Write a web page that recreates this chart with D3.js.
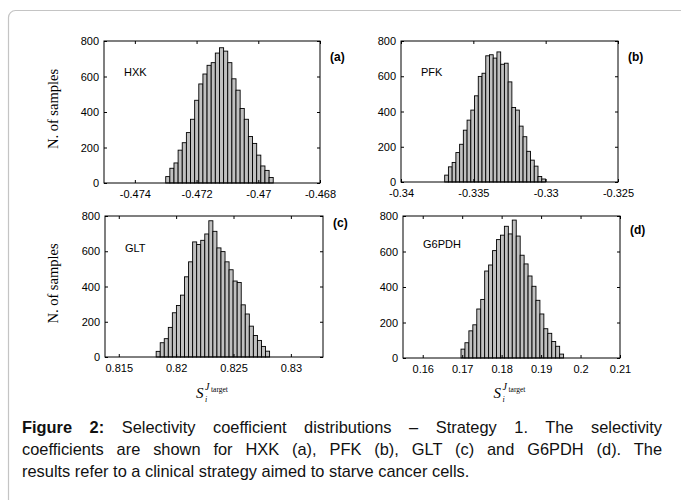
<!DOCTYPE html>
<html>
<head>
<meta charset="utf-8">
<script src="https://cdn.jsdelivr.net/npm/d3@7"></script>
<style>
  body { margin: 0; background: #fff; }
  #wrap { position: relative; width: 681px; height: 500px; overflow: hidden; }
  .cap { position: absolute; left: 22px; width: 640px; font: 16.4px "Liberation Sans", Arial, sans-serif; color: #111; white-space: nowrap; }
  .just { text-align: justify; text-align-last: justify; white-space: normal; }
</style>
</head>
<body>
<div id="wrap"></div>
<script>

// ---- data ----
var yTicks = [0, 200, 400, 600, 800];

var hxkCounts = [36, 83, 113, 185, 227, 284, 359, 466, 558, 614, 663, 678, 732, 762, 743, 678, 587, 523, 420, 359, 262, 223, 157, 96, 71, 31];
var hxkBin = { start: -0.4730, width: 0.000134 };
var hxkDomain = [-0.475, -0.468];
var hxkTicks = [-0.474, -0.472, -0.47, -0.468];

var pfkCounts = [39, 86, 111, 167, 214, 294, 351, 408, 489, 599, 617, 716, 722, 703, 738, 668, 674, 568, 423, 408, 317, 257, 174, 124, 90, 31, 17];
var pfkBin = { start: -0.33698, width: 0.000258 };
var pfkDomain = [-0.34, -0.325];
var pfkTicks = [-0.34, -0.335, -0.33, -0.325];

var gltCounts = [32, 81, 104, 168, 251, 292, 351, 455, 540, 653, 638, 662, 698, 773, 713, 619, 598, 540, 495, 431, 423, 296, 244, 175, 122, 94, 60, 33];
var gltBin = { start: 0.81826, width: 0.000353 };
var gltDomain = [0.8138, 0.8328];
var gltTicks = [0.815, 0.82, 0.825, 0.83];

var g6pdhCounts = [50, 86, 153, 187, 276, 330, 490, 524, 605, 667, 692, 742, 699, 777, 687, 579, 530, 462, 404, 325, 248, 165, 139, 93, 66, 22];
var g6pdhBin = { start: 0.1697, width: 0.001 };
var g6pdhDomain = [0.155, 0.21];
var g6pdhTicks = [0.16, 0.17, 0.18, 0.19, 0.2, 0.21];

var panels = [
    { name: "HXK", tag: "(a)", counts: hxkCounts, bin: hxkBin, domain: hxkDomain, ticks: hxkTicks,
      box: { x: 104, y: 41, w: 216, h: 142 }, tagY: 61, nameY: 76, ylab: true, xlab: false },
    { name: "PFK", tag: "(b)", counts: pfkCounts, bin: pfkBin, domain: pfkDomain, ticks: pfkTicks,
      box: { x: 401, y: 41, w: 217, h: 141 }, tagY: 61, nameY: 76, ylab: false, xlab: false },
    { name: "GLT", tag: "(c)", counts: gltCounts, bin: gltBin, domain: gltDomain, ticks: gltTicks,
      box: { x: 105, y: 216, w: 218, h: 141 }, tagY: 227, nameY: 252, ylab: true, xlab: true },
    { name: "G6PDH", tag: "(d)", counts: g6pdhCounts, bin: g6pdhBin, domain: g6pdhDomain, ticks: g6pdhTicks,
      box: { x: 403, y: 216, w: 217, h: 142 }, tagY: 234, nameY: 248, ylab: false, xlab: true }
];

var sansFont = '"Liberation Sans", Arial, sans-serif';
var serifFont = '"Liberation Serif", "Times New Roman", serif';

var svg = d3.select("#wrap")
    .append("svg")
    .attr("width", 681)
    .attr("height", 500)
    .style("position", "absolute")
    .style("left", 0)
    .style("top", 0);

// outer frame of the figure box
svg.append("rect")
    .attr("x", 8.5)
    .attr("y", 10.5)
    .attr("width", 720)
    .attr("height", 540)
    .attr("rx", 7)
    .attr("fill", "none")
    .attr("stroke", "#c4c4c4")
    .attr("stroke-width", 1.2);

function fmt(d) { return String(d); }

function styleAxis(g) {
    g.selectAll("line").attr("stroke", "#000");
    g.selectAll("path").remove();
    g.selectAll("text")
        .style("font-family", sansFont)
        .style("font-size", "11px")
        .attr("fill", "#000");
}

panels.forEach(function (p) {
    var b = p.box;
    var g = svg.append("g").attr("transform", "translate(" + b.x + "," + b.y + ")");

    var x = d3.scaleLinear().domain(p.domain).range([0, b.w]);
    var y = d3.scaleLinear().domain([0, 800]).range([b.h, 0]);

    // bars
    g.selectAll("rect.bar")
        .data(p.counts)
        .enter()
        .append("rect")
        .attr("class", "bar")
        .attr("x", function (d, i) { return x(p.bin.start + i * p.bin.width); })
        .attr("width", function (d, i) { return x(p.bin.start + (i + 1) * p.bin.width) - x(p.bin.start + i * p.bin.width); })
        .attr("y", function (d) { return y(d); })
        .attr("height", function (d) { return y(0) - y(d); })
        .attr("fill", "#c0c0c0")
        .attr("stroke", "#000")
        .attr("stroke-width", 0.9);

    // axes, ticks pointing inward as in matlab
    var xb = g.append("g").attr("transform", "translate(0," + b.h + ")")
        .call(d3.axisBottom(x).tickValues(p.ticks).tickSize(-3).tickSizeOuter(0).tickPadding(7).tickFormat(fmt));
    styleAxis(xb);
    var xt = g.append("g")
        .call(d3.axisTop(x).tickValues(p.ticks).tickSize(-3).tickSizeOuter(0).tickFormat(""));
    styleAxis(xt);
    var yl = g.append("g")
        .call(d3.axisLeft(y).tickValues(yTicks).tickSize(-3).tickSizeOuter(0).tickPadding(5).tickFormat(fmt));
    styleAxis(yl);
    var yr = g.append("g").attr("transform", "translate(" + b.w + ",0)")
        .call(d3.axisRight(y).tickValues(yTicks).tickSize(-3).tickSizeOuter(0).tickFormat(""));
    styleAxis(yr);

    g.append("rect")
        .attr("x", 0).attr("y", 0)
        .attr("width", b.w).attr("height", b.h)
        .attr("fill", "none")
        .attr("stroke", "#000")
        .attr("stroke-width", 1);

    // enzyme name
    g.append("text")
        .attr("x", 20)
        .attr("y", p.nameY - b.y)
        .style("font-family", sansFont)
        .style("font-size", "11px")
        .text(p.name);

    // panel tag
    g.append("text")
        .attr("x", b.w + 10)
        .attr("y", p.tagY - b.y)
        .style("font-family", sansFont)
        .style("font-size", "12px")
        .style("font-weight", "bold")
        .text(p.tag);

    if (p.ylab) {
        svg.append("text")
            .attr("transform", "translate(58," + (b.y + b.h / 2 - 3) + ") rotate(-90)")
            .attr("text-anchor", "middle")
            .style("font-family", serifFont)
            .style("font-size", "14.5px")
            .text("N. of samples");
    }

    if (p.xlab) {
        var cx = b.x + b.w / 2 - 3;
        var lab = svg.append("g").style("font-family", serifFont);
        lab.append("text").attr("x", cx - 15).attr("y", 398)
            .style("font-size", "15px").style("font-style", "italic").text("S");
        lab.append("text").attr("x", cx - 6).attr("y", 402)
            .style("font-size", "8px").style("font-style", "italic").text("i");
        lab.append("text").attr("x", cx - 6).attr("y", 390)
            .style("font-size", "10px").style("font-style", "italic").text("J");
        lab.append("text").attr("x", cx).attr("y", 392)
            .style("font-size", "7.5px").text("target");
    }
});

// caption
var wrap = d3.select("#wrap");
var line1 = wrap.append("div").attr("class", "cap just").style("top", "418px");
line1.append("b").text("Figure 2:");
line1.append("span").text(" Selectivity coefficient distributions \u2013 Strategy 1. The selectivity");
wrap.append("div").attr("class", "cap just").style("top", "440px")
    .text("coefficients are shown for HXK (a), PFK (b), GLT (c) and G6PDH (d). The");
wrap.append("div").attr("class", "cap").style("top", "462px")
    .text("results refer to a clinical strategy aimed to starve cancer cells.");

</script>
</body>
</html>
